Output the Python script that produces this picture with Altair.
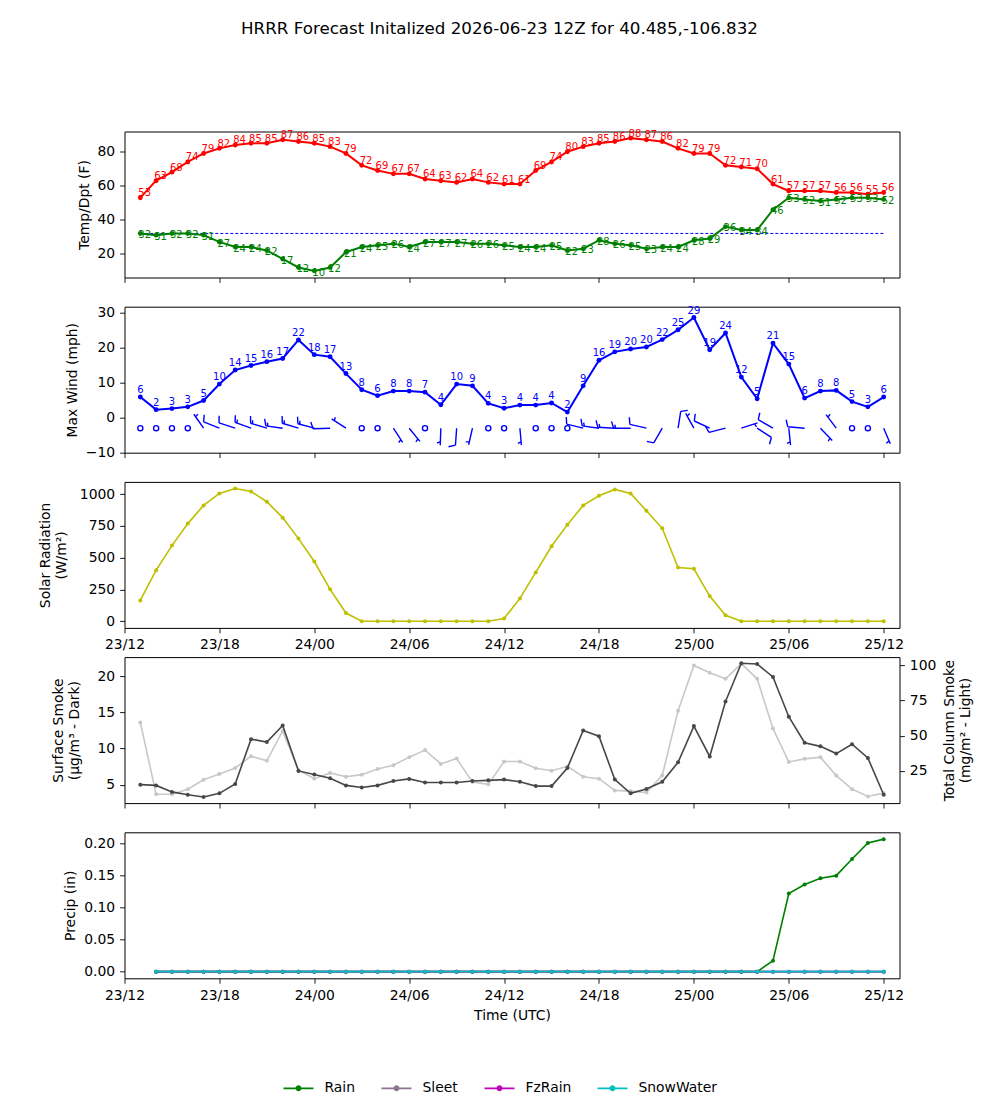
import altair as alt
import pandas as pd

# Forecast hours after the 2026-06-23 12Z initialization (23/13 ... 25/12)
fhour = list(range(1, 49))

temp_f = [53, 63, 68, 74, 79, 82, 84, 85, 85, 87, 86, 85, 83, 79, 72, 69, 67, 67, 64, 63, 62, 64, 62, 61,
          61, 69, 74, 80, 83, 85, 86, 88, 87, 86, 82, 79, 79, 72, 71, 70, 61, 57, 57, 57, 56, 56, 55, 56]
dewpt_f = [32, 31, 32, 32, 31, 27, 24, 24, 22, 17, 12, 10, 12, 21, 24, 25, 26, 24, 27, 27, 27, 26, 26, 25,
           24, 24, 25, 22, 23, 28, 26, 25, 23, 24, 24, 28, 29, 36, 34, 34, 46, 53, 52, 51, 52, 53, 53, 52]
freezing_f = 32

wind_max_mph = [5.9, 2.3, 2.6, 3.1, 4.9, 9.6, 13.6, 14.9, 16.0, 16.9, 22.2, 18.0, 17.4, 12.6, 8.0, 6.3,
                7.6, 7.6, 7.3, 3.7, 9.6, 9.1, 4.1, 2.7, 3.6, 3.6, 4.2, 1.6, 9.1, 16.4, 18.8, 19.6,
                20.2, 22.3, 25.1, 28.6, 19.4, 24.2, 11.6, 5.4, 21.3, 15.3, 5.6, 7.6, 7.8, 4.6, 3.1, 5.9]
# barbs: speed (kt, rounded to 5) and direction the wind blows from (deg)
barb_kt = [0, 0, 0, 0, 5, 10, 10, 15, 15, 15, 15, 15, 10, 5, 0, 0, 5, 5, 0, 5, 10, 5, 0, 0,
           5, 0, 0, 0, 10, 15, 15, 15, 10, 10, 10, 5, 10, 10, 5, 10, 10, 5, 10, 5, 5, 0, 0, 5]
barb_dir = [0, 0, 0, 0, 325, 292, 288, 290, 287, 278, 287, 285, 268, 303, 0, 0, 147, 141, 0, 182, 184, 193, 0, 0,
            175, 0, 0, 0, 284, 278, 273, 270, 283, 210, 9, 331, 295, 256, 72, 123, 300, 174, 275, 136, 323, 0, 0, 157]

solar_wm2 = [164, 402, 595, 768, 911, 1005, 1044, 1021, 940, 815, 650, 470, 251, 65, 0, 0, 0, 0, 0, 0, 0, 0, 0, 21,
             180, 384, 590, 760, 911, 987, 1037, 1005, 869, 731, 423, 413, 198, 47, 0, 0, 0, 0, 0, 0, 0, 0, 0, 0]

smoke_sfc = [5.0, 4.9, 4.0, 3.6, 3.3, 3.8, 5.1, 11.3, 10.9, 13.2, 6.9, 6.4, 5.9, 4.9, 4.6, 4.9,
             5.5, 5.8, 5.3, 5.3, 5.3, 5.5, 5.6, 5.7, 5.4, 4.8, 4.8, 7.3, 12.5, 11.7, 5.7, 3.8,
             4.4, 5.4, 8.1, 13.1, 8.9, 16.5, 21.8, 21.7, 19.9, 14.4, 10.8, 10.3, 9.3, 10.6, 8.7, 3.6]
smoke_col = [59.4, 8.5, 8.5, 12.1, 18.8, 22.9, 27.1, 35.5, 32.2, 53.4, 25.5, 19.5, 23.6, 20.9, 22.4, 26.4,
             29.1, 34.8, 39.8, 30.0, 33.8, 17.1, 15.5, 31.7, 31.7, 26.9, 25.2, 28.3, 20.9, 19.5, 11.2, 10.7,
             9.7, 21.9, 67.7, 99.9, 94.7, 90.4, 101.1, 90.4, 55.1, 31.4, 33.6, 34.8, 21.7, 12.1, 6.9, 9.3]

# accumulated precipitation, hours 2..48
precip_hour = list(range(2, 49))
rain_in = [0, 0, 0, 0, 0, 0, 0, 0, 0, 0, 0, 0, 0, 0, 0, 0, 0, 0, 0, 0, 0, 0, 0, 0, 0, 0, 0, 0, 0, 0,
           0, 0, 0, 0, 0, 0, 0, 0, 0, 0.017, 0.122, 0.136, 0.146, 0.150, 0.176, 0.201, 0.207]
sleet_in = [0, 0, 0, 0, 0, 0, 0, 0, 0, 0, 0, 0, 0, 0, 0, 0, 0, 0, 0, 0, 0, 0, 0, 0, 0, 0, 0, 0, 0, 0,
            0, 0, 0, 0, 0, 0, 0, 0, 0, 0, 0, 0, 0, 0, 0, 0, 0]
fzrain_in = [0, 0, 0, 0, 0, 0, 0, 0, 0, 0, 0, 0, 0, 0, 0, 0, 0, 0, 0, 0, 0, 0, 0, 0, 0, 0, 0, 0, 0, 0,
             0, 0, 0, 0, 0, 0, 0, 0, 0, 0, 0, 0, 0, 0, 0, 0, 0]
snowwater_in = [0, 0, 0, 0, 0, 0, 0, 0, 0, 0, 0, 0, 0, 0, 0, 0, 0, 0, 0, 0, 0, 0, 0, 0, 0, 0, 0, 0, 0, 0,
                0, 0, 0, 0, 0, 0, 0, 0, 0, 0, 0, 0, 0, 0, 0, 0, 0]
ptypes = ["Rain", "Sleet", "FzRain", "SnowWater"]
pcolors = ["#008000", "#8c7391", "#bf00bf", "#00bfbf"]

df = pd.DataFrame({
    "fh": fhour, "temp": temp_f, "dewpt": dewpt_f, "wind": wind_max_mph,
    "kt": barb_kt, "dir": barb_dir, "solar": solar_wm2,
    "sfc": smoke_sfc, "col": smoke_col,
})
precip = pd.DataFrame({
    "fh": precip_hour * 4,
    "amount": rain_in + sleet_in + fzrain_in + snowwater_in,
    "ptype": [p for p in ptypes for _ in precip_hour],
})

# ---- wind barb glyphs (staff pointing up, unit = staff length) ----
SPACING, HEIGHT, WIDTH = 0.125, 0.4, 0.25


def barb_path(kt):
    if kt == 0:
        r = 0.15
        return f"M{r},0A{r},{r},0,1,1,{-r},0A{r},{r},0,1,1,{r},0Z"
    parts = ["M0,0L0,-1"]
    off = 0.0
    for _ in range(kt // 10):
        y = -1 + off
        parts.append(f"M0,{y}L{HEIGHT},{y - WIDTH / 2}")
        off += SPACING
    if kt % 10 >= 5:
        if kt < 10:
            off += 1.5 * SPACING
        y = -1 + off
        parts.append(f"M0,{y}L{HEIGHT / 2},{y - WIDTH / 4}")
    return "".join(parts)


barb_classes = [0, 5, 10, 15]
barb_shapes = [barb_path(k) for k in barb_classes]

# ---- shared x axis ----
W, H = 775, 146
TICKS = [0, 6, 12, 18, 24, 30, 36, 42, 48]
LABEL_EXPR = ("format(23 + floor((datum.value + 12) / 24), '02d') + '/' + "
              "format((datum.value + 12) % 24, '02d')")
x_scale = alt.Scale(domain=[0, 49], nice=False, zero=False)


def xenc(labels, title=None):
    return alt.X("fh:Q", scale=x_scale, title=title,
                 axis=alt.Axis(values=TICKS, labels=labels, labelExpr=LABEL_EXPR,
                               labelFlush=False, labelOverlap=False))


base = alt.Chart(df)

# ---- temperature / dewpoint ----
temp_axis = alt.Axis(values=[20, 40, 60, 80], labelOverlap=False)
temp_scale = alt.Scale(domain=[6.1, 91.9], nice=False, zero=False)


def ytemp(field):
    return alt.Y(f"{field}:Q", scale=temp_scale, axis=temp_axis, title="Temp/Dpt (F)")


freeze = alt.Chart(pd.DataFrame({"a": [fhour[0]], "b": [fhour[-1]], "f": [freezing_f]})).mark_rule(
    strokeWidth=1, strokeDash=[3, 2], opacity=1
).encode(x=alt.X("a:Q", scale=x_scale, title=None, axis=alt.Axis(values=TICKS, labels=False)),
         x2="b:Q", y=alt.Y("f:Q", scale=temp_scale, axis=temp_axis, title="Temp/Dpt (F)"),
         color=alt.value("#0000ff"))

temp_panel = alt.layer(
    freeze,
    base.mark_line(color="red", strokeWidth=2).encode(x=xenc(False), y=ytemp("temp")),
    base.mark_circle(color="red", size=24, opacity=1).encode(x=xenc(False), y=ytemp("temp")),
    base.mark_text(color="red", align="left", baseline="alphabetic", dx=-2, dy=-1.5, fontSize=10)
        .encode(x=xenc(False), y=ytemp("temp"), text="temp:Q"),
    base.mark_line(color="green", strokeWidth=2).encode(x=xenc(False), y=ytemp("dewpt")),
    base.mark_circle(color="green", size=24, opacity=1).encode(x=xenc(False), y=ytemp("dewpt")),
    base.mark_text(color="green", align="left", baseline="alphabetic", dx=-2, dy=4.7, fontSize=10)
        .encode(x=xenc(False), y=ytemp("dewpt"), text="dewpt:Q"),
).properties(width=W, height=H)

# ---- max wind + barbs ----
wind_scale = alt.Scale(domain=[-10, 31.7], nice=False, zero=False)
wind_axis = alt.Axis(values=[-10, 0, 10, 20, 30], labelOverlap=False)
ywind = alt.Y("wind:Q", scale=wind_scale, axis=wind_axis, title="Max Wind (mph)")
ybarb = alt.Y(datum=-3, scale=wind_scale, axis=wind_axis, title="Max Wind (mph)")

wind_panel = alt.layer(
    base.mark_line(color="blue", strokeWidth=2).encode(x=xenc(False), y=ywind),
    base.mark_circle(color="blue", size=24, opacity=1).encode(x=xenc(False), y=ywind),
    base.mark_text(color="blue", align="center", baseline="alphabetic", dy=-4, fontSize=10)
        .encode(x=xenc(False), y=ywind, text=alt.Text("wind:Q", format=".0f")),
    base.mark_point(color="blue", filled=False, strokeWidth=1.4, opacity=1, size=1156).encode(
        x=xenc(False), y=ybarb,
        shape=alt.Shape("kt:N", scale=alt.Scale(domain=barb_classes, range=barb_shapes), legend=None),
        angle=alt.Angle("dir:Q", scale=None),
    ),
).properties(width=W, height=H)

# ---- solar radiation ----
ysolar = alt.Y("solar:Q", scale=alt.Scale(domain=[-52, 1096], nice=False, zero=False),
               axis=alt.Axis(values=[0, 250, 500, 750, 1000], format="d", titlePadding=11),
               title=["Solar Radiation", "(W/m²)"])
solar_panel = alt.layer(
    base.mark_line(color="#bfbf00", strokeWidth=1.6).encode(x=xenc(True), y=ysolar),
    base.mark_circle(color="#bfbf00", size=16, opacity=1).encode(x=xenc(True), y=ysolar),
).properties(width=W, height=H)

# ---- smoke ----
ycol = alt.Y("col:Q", scale=alt.Scale(domain=[2.2, 105.8], nice=False, zero=False),
             axis=alt.Axis(values=[25, 50, 75, 100], orient="right", titleAngle=270,
                           titleBaseline="top", titlePadding=-9),
             title=["Total Column Smoke", "(mg/m² - Light)"])
ysfc = alt.Y("sfc:Q", scale=alt.Scale(domain=[2.45, 22.65], nice=False, zero=False),
             axis=alt.Axis(values=[5, 10, 15, 20], orient="left", titlePadding=16),
             title=["Surface Smoke", "(μg/m³ - Dark)"])
light = alt.layer(
    base.mark_line(color="#c8c8c8", strokeWidth=1.6).encode(x=xenc(False), y=ycol),
    base.mark_circle(color="#c8c8c8", size=16, opacity=1).encode(x=xenc(False), y=ycol),
)
dark = alt.layer(
    base.mark_line(color="#474747", strokeWidth=1.6).encode(x=xenc(False), y=ysfc),
    base.mark_circle(color="#474747", size=16, opacity=1).encode(x=xenc(False), y=ysfc),
)
smoke_panel = alt.layer(light, dark).resolve_scale(y="independent").properties(width=W, height=H)

# ---- precipitation ----
pbase = alt.Chart(precip)
yprec = alt.Y("amount:Q", scale=alt.Scale(domain=[-0.0104, 0.2177], nice=False, zero=False),
              axis=alt.Axis(values=[0, 0.05, 0.10, 0.15, 0.20], format=".2f"), title="Precip (in)")
# legend glyph: short line with a dot in the middle
LEGEND_SYMBOL = ("M-1.5,-0.09L1.5,-0.09L1.5,0.09L-1.5,0.09Z"
                 "M0.3,0A0.3,0.3,0,1,1,-0.3,0A0.3,0.3,0,1,1,0.3,0Z")
prec_layers = []
for name, col in zip(ptypes, pcolors):
    prec_layers.append(
        pbase.transform_filter(alt.datum.ptype == name).mark_line(color=col, strokeWidth=1.6)
        .encode(x=xenc(True, "Time (UTC)"), y=yprec)
    )
prec_layers.append(
    pbase.mark_circle(size=16, opacity=1).encode(
        x=xenc(True, "Time (UTC)"), y=yprec,
        color=alt.Color("ptype:N", scale=alt.Scale(domain=ptypes, range=pcolors),
                        legend=alt.Legend(title=None, orient="none", legendX=164, legendY=246,
                                          direction="horizontal", symbolType=LEGEND_SYMBOL,
                                          symbolSize=400, symbolStrokeWidth=0, symbolOpacity=1,
                                          labelFontSize=13.9, labelOffset=16, columnPadding=26,
                                          padding=0, labelColor="black")),
    )
)
precip_panel = alt.layer(*prec_layers).properties(width=W, height=H)

chart = alt.vconcat(
    temp_panel, wind_panel, solar_panel, smoke_panel, precip_panel,
    spacing=29.2, bounds="flush",
).resolve_scale(color="independent", shape="independent").properties(
    title=alt.TitleParams("HRRR Forecast Initalized 2026-06-23 12Z for 40.485,-106.832",
                          fontSize=16.7, fontWeight="normal", anchor="middle", offset=90, dx=-6),
    padding={"left": 37.5, "top": 20.5, "right": 5, "bottom": 0},
).configure(font="DejaVu Sans").configure_view(
    stroke="black", strokeWidth=1
).configure_axis(
    domain=False, grid=False, tickColor="black", tickSize=4.9, tickWidth=0.9,
    labelFontSize=13.9, titleFontSize=13.9, titleFontWeight="normal", labelOverlap=False,
    labelColor="black", titleColor="black", labelPadding=4.9, titlePadding=6,
).configure_title(color="black")

chart.save("out.html", embed_options={"renderer": "svg", "actions": False})
